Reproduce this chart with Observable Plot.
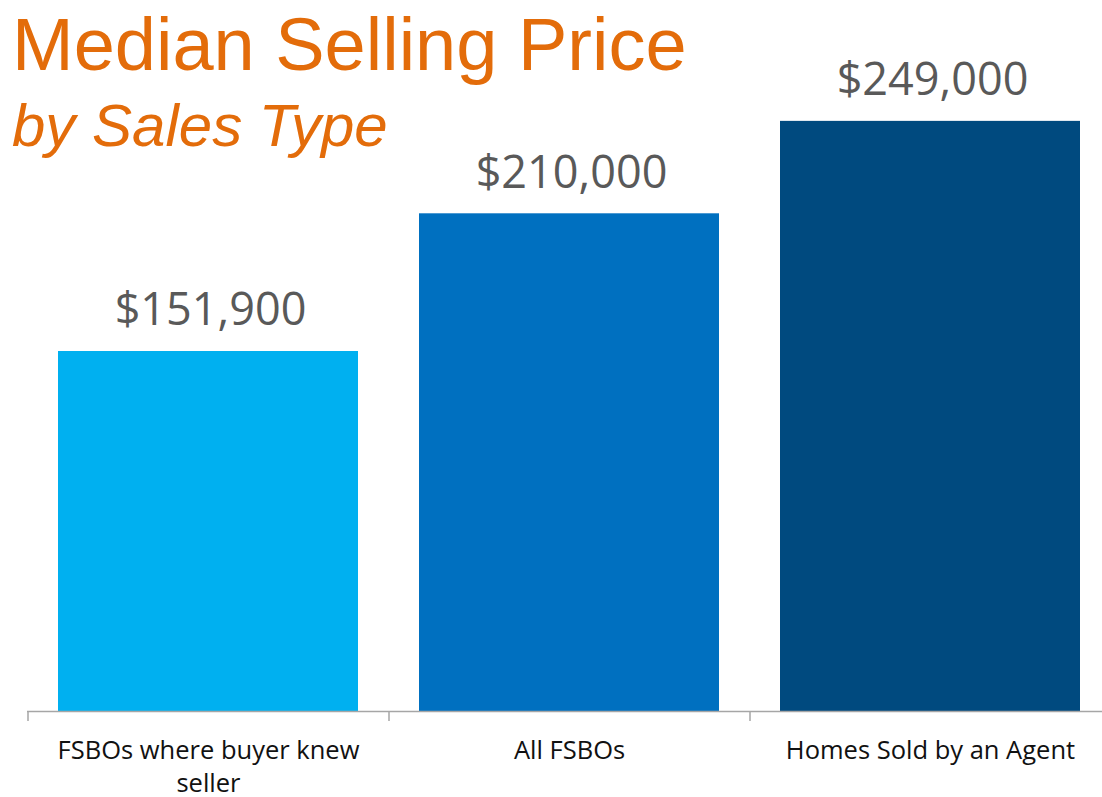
<!DOCTYPE html>
<html>
<head>
<meta charset="utf-8">
<script src="https://cdn.jsdelivr.net/npm/d3@7"></script>
<script src="https://cdn.jsdelivr.net/npm/@observablehq/plot@0.6"></script>
<style>
  html, body { margin: 0; padding: 0; background: #fff; }
  #wrap { position: relative; width: 1102px; height: 797px; overflow: hidden; }
  .title { position: absolute; left: 12px; color: #E36C0A; font-family: "Liberation Sans", Arial, sans-serif; line-height: 1; white-space: nowrap; }
  #t1 { top: 8px; font-size: 74px; }
  #t2 { top: 96px; font-size: 60px; font-style: italic; }
  svg text { font-family: "Open Sans", sans-serif; }
</style>
</head>
<body>
<div id="wrap">
  <div id="chart"></div>
  <div class="title" id="t1">Median Selling Price</div>
  <div class="title" id="t2">by Sales Type</div>
</div>
<script>
const categories = ["FSBOs where buyer knew seller", "All FSBOs", "Homes Sold by an Agent"];
const prices = [151900, 210000, 249000];
const barColors = ["#00B0F0", "#0070C0", "#004A7F"];

const data = categories.map((c, i) => ({category: c, price: prices[i]}));

const W = 1102, H = 797, mL = 27, mR = -8, mB = 86;
const step = (W - mL - mR) / categories.length;

const chart = Plot.plot({
  width: W,
  height: H,
  marginLeft: mL,
  marginRight: mR,
  marginTop: 0,
  marginBottom: mB,
  style: {background: "transparent", overflow: "visible"},
  x: {domain: categories, paddingInner: 0.169, paddingOuter: 0.0845, label: null},
  y: {domain: [0, 300000], axis: null},
  color: {domain: categories, range: barColors},
  marks: [
    Plot.barY(data, {x: "category", y: "price", fill: "category"}),
    Plot.ruleY([0], {stroke: "#A6A6A6", strokeWidth: 1.5}),
    Plot.ruleX(categories, {x: d => d, y1: 0, y2: 0, dx: -step / 2, insetBottom: -10, stroke: "#A6A6A6", strokeWidth: 1.5}),
    Plot.ruleX(categories.slice(-1), {x: d => d, y1: 0, y2: 0, dx: step / 2, insetBottom: -10, stroke: "#A6A6A6", strokeWidth: 1.5}),
    Plot.text(data, {x: "category", y: "price", text: d => d3.format("$,")(d.price), lineAnchor: "bottom", dy: -26, dx: 2, fontSize: 45, fill: "#595959", style: "letter-spacing:3.5px"}),
    Plot.axisX({tickSize: 0, tickPadding: 24, fontSize: 25.5, lineWidth: 13, lineHeight: 1.3, fill: "#111", label: null, style: "letter-spacing:0.6px"})
  ]
});
document.getElementById("chart").appendChild(chart);
</script>
</body>
</html>
